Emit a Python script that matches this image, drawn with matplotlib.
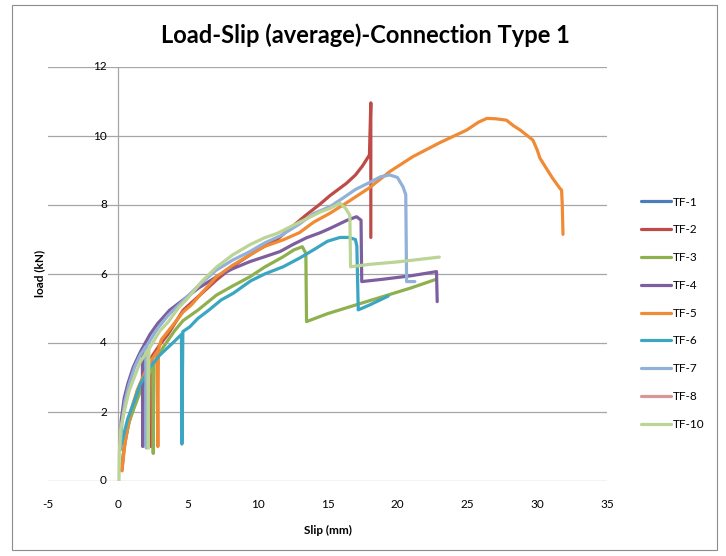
import matplotlib
matplotlib.use("Agg")
import matplotlib.pyplot as plt
from matplotlib.patches import Rectangle

plt.rcParams['font.family'] = ['Lato', 'DejaVu Sans']

title = "Load-Slip (average)-Connection Type 1"
x_label = "Slip (mm)"
y_label = "load (kN)"
x_ticks = [-5, 0, 5, 10, 15, 20, 25, 30, 35]
y_ticks = [0, 2, 4, 6, 8, 10, 12]

series_names = ["TF-1", "TF-2", "TF-3", "TF-4", "TF-5", "TF-6", "TF-7", "TF-8", "TF-10"]
series_colors = ["#4A7EBB", "#BE4B48", "#8FB04E", "#7D5FA0", "#F08A35",
                 "#3BA6C2", "#92B1D8", "#D99694", "#BCD495"]

tf1_x = []
tf1_y = []

tf2_x = [0.28, 0.45, 0.72, 1.0, 1.43, 1.9, 2.36, 2.38, 2.42, 3.0, 3.58, 4.67, 5.9, 7.06, 8.5,
         10.0, 11.36, 12.5, 13.5, 14.45, 15.17, 16.36, 17.0, 17.5, 18.0, 18.1, 18.1]
tf2_y = [0.3, 1.0, 1.57, 2.05, 2.64, 3.1, 3.55, 1.0, 3.6, 3.95, 4.25, 4.95, 5.4, 5.83, 6.3,
         6.7, 6.99, 7.38, 7.72, 8.02, 8.27, 8.63, 8.87, 9.13, 9.45, 10.96, 7.06]

tf3_x = [0.3, 0.5, 0.8, 1.19, 1.7, 2.2, 2.5, 2.53, 2.58, 3.2, 4.05, 4.67, 5.72, 7.06, 8.2,
         9.45, 10.5, 11.83, 12.6, 13.2, 13.45, 13.5, 15.0, 17.0, 19.0, 21.0, 22.8]
tf3_y = [0.5, 1.1, 1.7, 2.15, 2.7, 3.1, 3.35, 0.8, 3.4, 3.85, 4.35, 4.65, 4.95, 5.39, 5.65,
         5.92, 6.2, 6.5, 6.7, 6.79, 6.6, 4.62, 4.85, 5.1, 5.35, 5.6, 5.85]

tf4_x = [0.15, 0.24, 0.45, 0.72, 1.1, 1.5, 1.75, 1.78, 1.82, 2.3, 2.86, 3.7, 4.67, 5.8, 7.06,
         8.2, 9.45, 10.5, 11.6, 12.5, 13.5, 14.5, 15.17, 16.36, 17.08, 17.4, 17.45, 19.0,
         21.0, 22.8, 22.85]
tf4_y = [0.9, 1.77, 2.4, 2.83, 3.3, 3.65, 3.85, 1.0, 3.9, 4.25, 4.57, 4.95, 5.25, 5.6, 5.92,
         6.15, 6.36, 6.5, 6.65, 6.85, 7.05, 7.2, 7.32, 7.55, 7.66, 7.56, 5.78, 5.85,
         5.95, 6.07, 5.2]

tf5_x = [0.3, 0.45, 0.7, 0.95, 1.4, 1.91, 2.4, 2.8, 2.86, 2.9, 3.1, 4.0, 4.67, 5.25, 6.0,
         7.06, 8.2, 9.45, 10.5, 11.83, 13.0, 14.0, 15.17, 16.5, 18.0, 19.46, 21.1, 23.0,
         24.95, 25.8, 26.4, 27.0, 27.8, 28.3, 28.8, 29.7, 30.0, 30.2, 30.6, 31.1, 31.6,
         31.75, 31.8, 31.85]
tf5_y = [0.3, 0.9, 1.6, 2.06, 2.65, 3.12, 3.5, 3.75, 1.0, 3.8, 4.09, 4.55, 4.9, 5.1, 5.45,
         5.92, 6.25, 6.55, 6.8, 6.99, 7.2, 7.5, 7.76, 8.1, 8.5, 8.97, 9.4, 9.8,
         10.17, 10.4, 10.51, 10.5, 10.46, 10.3, 10.17, 9.88, 9.6, 9.36, 9.1, 8.78, 8.5,
         8.43, 8.0, 7.15]

tf6_x = [0.14, 0.38, 0.7, 1.07, 1.6, 2.29, 3.0, 4.05, 4.55, 4.58, 4.65, 5.15, 5.72, 6.5, 7.4,
         8.25, 9.5, 10.5, 11.83, 13.0, 14.0, 15.0, 15.9, 16.5, 17.0, 17.1, 17.2, 18.0, 19.34]
tf6_y = [0.9, 1.28, 1.8, 2.2, 2.8, 3.3, 3.65, 4.05, 4.25, 1.07, 4.33, 4.47, 4.71, 4.95, 5.25,
         5.44, 5.8, 6.0, 6.21, 6.46, 6.7, 6.95, 7.06, 7.06, 7.0, 6.8, 4.96, 5.1, 5.36]

tf7_x = [0.15, 0.3, 0.5, 0.8, 1.2, 1.6, 2.0, 2.03, 2.07, 2.8, 3.6, 4.6, 5.86, 7.0, 8.2,
         9.45, 10.5, 11.6, 13.0, 14.0, 15.17, 16.1, 17.0, 18.0, 18.8, 19.46, 20.0, 20.4,
         20.6, 20.66, 21.25]
tf7_y = [0.9, 1.7, 2.3, 2.8, 3.3, 3.65, 3.9, 0.96, 3.92, 4.4, 4.8, 5.2, 5.7, 6.1, 6.4,
         6.65, 6.9, 7.1, 7.45, 7.75, 7.95, 8.2, 8.45, 8.65, 8.82, 8.87, 8.8, 8.53,
         8.3, 5.78, 5.78]

tf8_x = []
tf8_y = []

tf10_x = [0.08, 0.1, 0.2, 0.48, 0.8, 1.19, 1.6, 2.15, 2.18, 2.22, 3.0, 3.58, 4.3, 5.0, 6.0,
          7.06, 8.2, 9.45, 10.5, 11.36, 12.5, 13.5, 14.5, 15.17, 15.9, 16.3, 16.6, 16.65,
          18.0, 20.0, 21.5, 23.0]
tf10_y = [0.0, 0.8, 1.5, 2.06, 2.6, 3.02, 3.45, 3.8, 0.95, 3.82, 4.35, 4.6, 5.0, 5.3, 5.78,
          6.2, 6.55, 6.85, 7.05, 7.17, 7.4, 7.6, 7.8, 7.9, 8.05, 7.9, 7.7, 6.21,
          6.28, 6.35, 6.42, 6.49]

series_x = [tf1_x, tf2_x, tf3_x, tf4_x, tf5_x, tf6_x, tf7_x, tf8_x, tf10_x]
series_y = [tf1_y, tf2_y, tf3_y, tf4_y, tf5_y, tf6_y, tf7_y, tf8_y, tf10_y]

W, H = 726, 556
fig = plt.figure(figsize=(W / 100, H / 100), dpi=100)
fig.patches.append(Rectangle((12 / W, 1 - 550 / H), (717 - 12) / W, (550 - 5) / H,
                             transform=fig.transFigure, fill=False,
                             edgecolor="#8C8C8C", linewidth=0.8))

ax = fig.add_axes([48 / W, 1 - 481 / H, (607 - 48) / W, (481 - 67) / H])
ax.set_xlim(-5, 35)
ax.set_ylim(0, 12)
for s in ax.spines.values():
    s.set_visible(False)

grid_color = "#A6A6A6"
for yv in y_ticks:
    ax.axhline(yv, color=grid_color, linewidth=0.9, zorder=1)
ax.plot([0, 0], [0, 12], color=grid_color, linewidth=0.9, zorder=1)

lines = []
for name, col, xs, ys in zip(series_names, series_colors, series_x, series_y):
    ln, = ax.plot(xs, ys, color=col, linewidth=2.3, label=name, zorder=3,
                  solid_joinstyle="round", solid_capstyle="round")
    lines.append(ln)

ax.set_yticks([])
for yv in y_ticks:
    ax.annotate(str(yv), xy=(0, yv), xytext=(-11, 0), textcoords="offset pixels",
                ha="right", va="center", fontsize=8.5, color="#000000")

ax.set_xticks(x_ticks)
ax.set_xticklabels([str(v) for v in x_ticks], fontsize=8.5)
ax.tick_params(axis="x", length=0, pad=13)

ax.set_xlabel(x_label, fontsize=8.5, fontweight="bold", labelpad=11)
fig.text(40 / W, 1 - 273 / H, y_label, rotation=90, ha="center", va="center",
         fontsize=8.5, fontweight="bold")
fig.text(365 / W, 1 - 35 / H, title, ha="center", va="center",
         fontsize=17, fontweight="bold")

fig.legend(handles=lines, labels=series_names, loc="upper left",
           bbox_to_anchor=(630 / W, 1 - 186 / H), frameon=False, fontsize=8.5,
           handlelength=2.6, handletextpad=0.1, labelspacing=1.42)

fig.savefig("out.png", dpi=100)
